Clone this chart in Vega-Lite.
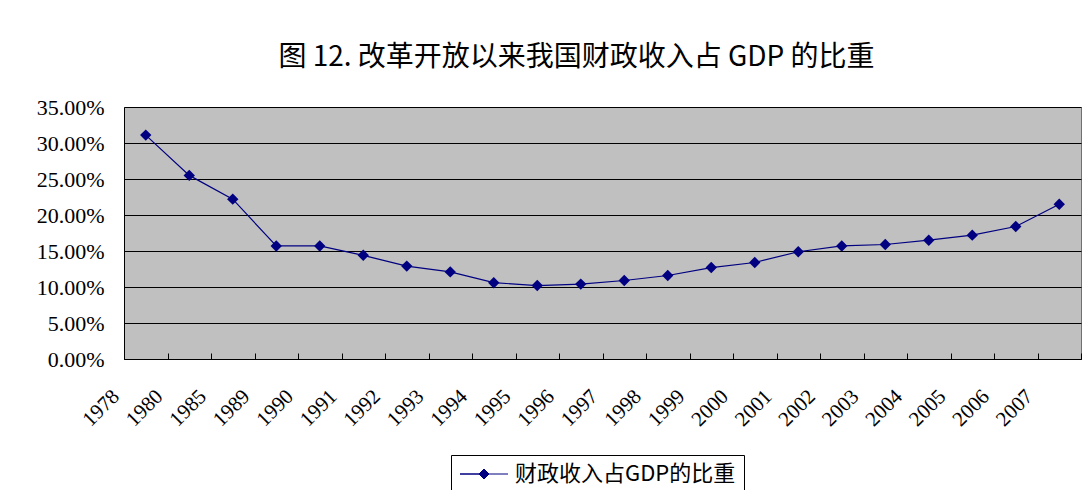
{
  "$schema": "https://vega.github.io/schema/vega-lite/v6.json",
  "width": 957,
  "height": 252,
  "autosize": "none",
  "padding": {"left": 124, "top": 107, "right": 5, "bottom": 131},
  "background": "white",
  "title": {
    "text": "图 12. 改革开放以来我国财政收入占 GDP 的比重",
    "font": "Noto Sans CJK SC",
    "fontSize": 28,
    "fontWeight": "normal",
    "color": "#000",
    "anchor": "middle",
    "frame": "group",
    "dx": -26,
    "offset": 24
  },
  "data": {
    "values": [
      {"year": "1978", "ratio": 0.311},
      {"year": "1980", "ratio": 0.255},
      {"year": "1985", "ratio": 0.222},
      {"year": "1989", "ratio": 0.157},
      {"year": "1990", "ratio": 0.157},
      {"year": "1991", "ratio": 0.144},
      {"year": "1992", "ratio": 0.129},
      {"year": "1993", "ratio": 0.121},
      {"year": "1994", "ratio": 0.106},
      {"year": "1995", "ratio": 0.102},
      {"year": "1996", "ratio": 0.104},
      {"year": "1997", "ratio": 0.109},
      {"year": "1998", "ratio": 0.116},
      {"year": "1999", "ratio": 0.127},
      {"year": "2000", "ratio": 0.134},
      {"year": "2001", "ratio": 0.149},
      {"year": "2002", "ratio": 0.157},
      {"year": "2003", "ratio": 0.159},
      {"year": "2004", "ratio": 0.165},
      {"year": "2005", "ratio": 0.172},
      {"year": "2006", "ratio": 0.184},
      {"year": "2007", "ratio": 0.215}
    ]
  },
  "encoding": {
    "x": {
      "field": "year",
      "type": "ordinal",
      "sort": null,
      "scale": {"type": "band", "paddingInner": 0, "paddingOuter": 0},
      "axis": {
        "title": null,
        "labelAngle": -45,
        "labelAlign": "right",
        "labelBaseline": "middle",
        "labelFont": "Liberation Serif",
        "labelFontSize": 21,
        "labelColor": "#000",
        "labelOffset": -30,
        "labelPadding": 40,
        "tickBand": "extent",
        "tickSize": -6,
        "tickColor": "#000",
        "domainColor": "#000",
        "grid": false
      }
    },
    "y": {
      "field": "ratio",
      "type": "quantitative",
      "scale": {"domain": [0, 0.35], "nice": false},
      "axis": {
        "title": null,
        "format": ".2%",
        "values": [0, 0.05, 0.1, 0.15, 0.2, 0.25, 0.3, 0.35],
        "labelFont": "Liberation Serif",
        "labelFontSize": 22,
        "labelColor": "#000",
        "labelPadding": 20,
        "ticks": false,
        "grid": true,
        "gridColor": "#000",
        "gridWidth": 1,
        "domainColor": "#000"
      }
    },
    "color": {
      "datum": "财政收入占GDP的比重",
      "scale": {"range": ["#000080"]},
      "legend": {
        "orient": "none",
        "legendX": 327,
        "legendY": 348,
        "title": null,
        "direction": "vertical",
        "padding": 8,
        "strokeColor": "#000",
        "fillColor": "#fff",
        "symbolType": "M-4.8,0H-1L0,-1L1,0L0,1L-1,0ZM1,0H4.8",
        "symbolSize": 100,
        "symbolOffset": 14,
        "labelOffset": 20,
        "labelLimit": 400,
        "labelFont": "Noto Sans CJK SC",
        "labelFontSize": 22,
        "labelColor": "#000",
        "encode": {
          "symbols": {
            "update": {
              "fill": {"value": "#000080"},
              "stroke": {"value": "#000080"},
              "strokeWidth": {"value": 1},
              "opacity": {"value": 1}
            }
          }
        }
      }
    }
  },
  "layer": [
    {"mark": {"type": "line", "strokeWidth": 1.2}},
    {"mark": {"type": "point", "shape": "diamond", "filled": true, "size": 130, "opacity": 1}}
  ],
  "config": {
    "view": {"fill": "#C0C0C0", "stroke": "#707070"}
  }
}
